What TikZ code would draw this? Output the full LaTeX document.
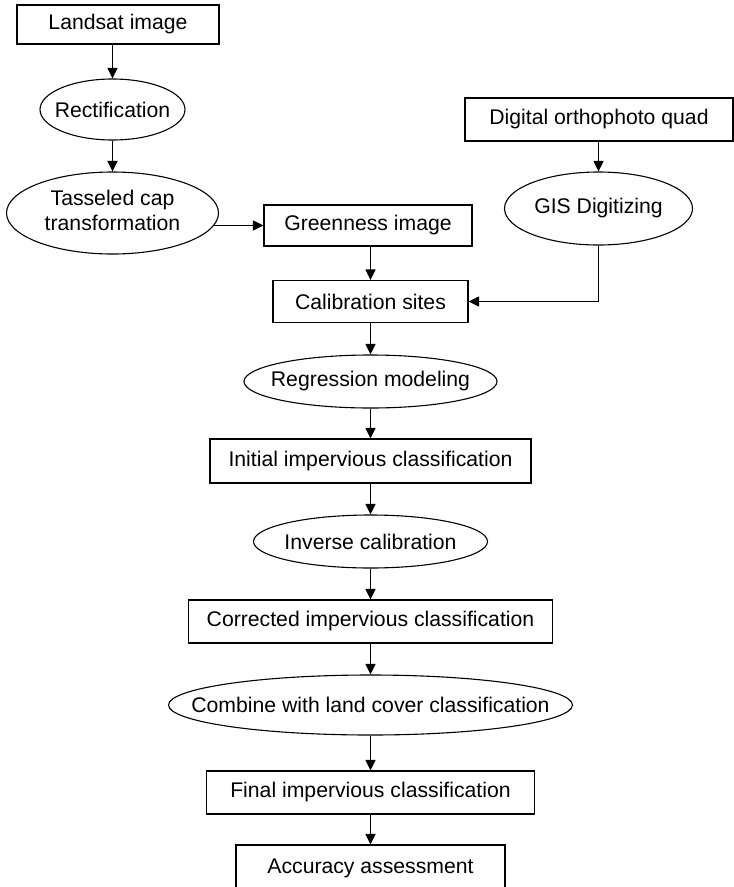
\documentclass[tikz,border=0pt]{standalone}
\usepackage{fontspec}
\setmainfont{Liberation Sans}
\usetikzlibrary{shapes.geometric,arrows.meta}
% text that does not widen the shape around it
\newcommand\zw[1]{\makebox[0pt]{#1}}
\begin{document}
\begin{tikzpicture}[x=1pt,y=-1pt,
  every node/.style={font=\fontsize{21.2pt}{25pt}\selectfont, line width=1.1pt, draw, inner sep=0pt},
  box/.style={rectangle},
  oval/.style={ellipse},
  arr/.style={line width=1.1pt, -{Triangle[length=10.5pt,width=10pt]}}]
\fill[white] (0,0) rectangle (734,887);
\useasboundingbox (0,0) rectangle (734,887);

% left column
\node[box, minimum width=202pt, minimum height=39pt] (landsat) at (118,24.5) {Landsat image};
\node[oval, minimum width=145pt, minimum height=61pt] (rect) at (112.5,109.5) {\zw{Rectification}};
\node[oval, minimum width=212pt, minimum height=82pt] (tass) at (112.5,213)
  {\zw{\begin{tabular}{@{}c@{}}Tasseled cap\\transformation\end{tabular}}};

% right column
\node[box, minimum width=268pt, minimum height=43pt] (dig) at (599,119.5) {Digital orthophoto quad};
\node[oval, minimum width=188pt, minimum height=73pt] (gis) at (598.5,208.5) {\zw{GIS Digitizing}};

% main column
\node[box, minimum width=208pt, minimum height=41pt] (green) at (368,225.5) {Greenness image};
\node[box, minimum width=195pt, minimum height=42pt] (calib) at (370.5,301.5) {Calibration sites};
\node[oval, minimum width=253pt, minimum height=53pt] (regr) at (370.5,381.5) {\zw{Regression modeling}};
\node[box, minimum width=321pt, minimum height=44pt] (init) at (370.5,461) {Initial impervious classification};
\node[oval, minimum width=234pt, minimum height=53pt] (inv) at (370.5,541.5) {\zw{Inverse calibration}};
\node[box, minimum width=364pt, minimum height=43pt] (corr) at (370.5,621.5) {Corrected impervious classification};
\node[oval, minimum width=404pt, minimum height=60pt] (comb) at (370.5,705) {\zw{Combine with land cover classification}};
\node[box, minimum width=328pt, minimum height=43pt] (final) at (370.5,792.5) {Final impervious classification};
\node[box, minimum width=269pt, minimum height=46pt] (acc) at (370.5,868) {Accuracy assessment};

% connectors
\draw[arr] (landsat.south -| rect.north) -- (rect.north);
\draw[arr] (rect.south) -- (tass.north);
\draw[arr] (tass.-7 |- green.west) -- (green.west);
\draw[arr] (green.south -| calib.north) -- (calib.north);
\draw[arr] (dig.south -| gis.north) -- (gis.north);
\draw[arr] (gis.south) |- (calib.east);
\draw[arr] (calib.south) -- (regr.north);
\draw[arr] (regr.south) -- (init.north);
\draw[arr] (init.south) -- (inv.north);
\draw[arr] (inv.south) -- (corr.north);
\draw[arr] (corr.south) -- (comb.north);
\draw[arr] (comb.south) -- (final.north);
\draw[arr] (final.south) -- (acc.north);
\end{tikzpicture}
\end{document}
